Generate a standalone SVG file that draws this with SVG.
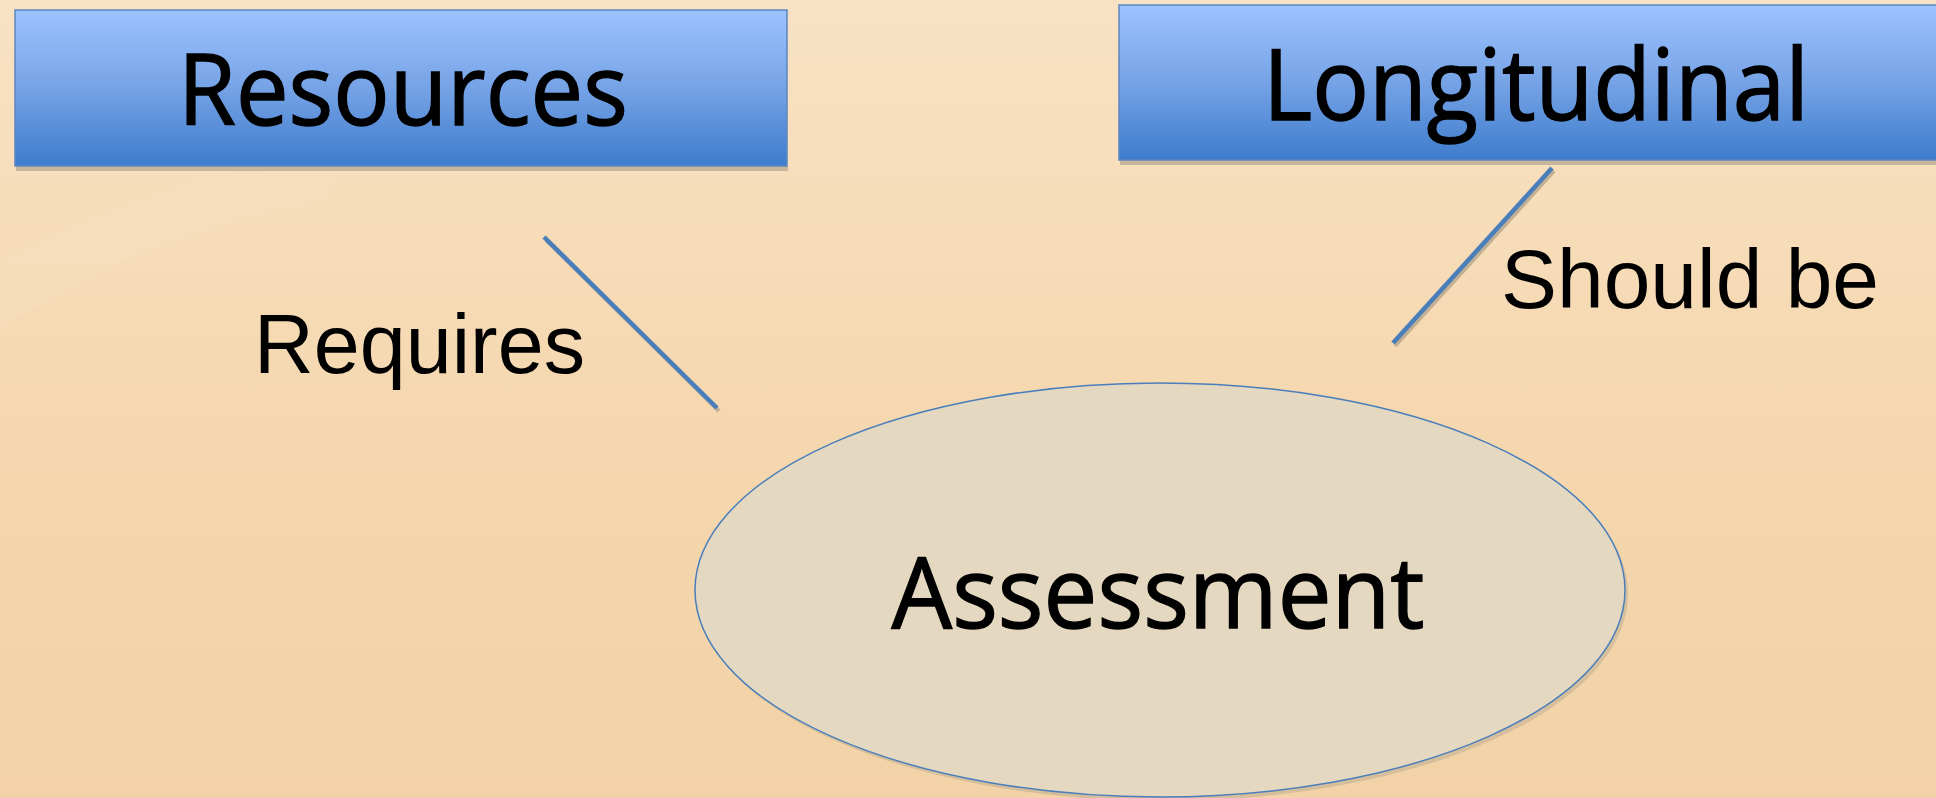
<svg xmlns="http://www.w3.org/2000/svg" width="1936" height="798" viewBox="0 0 1936 798">
  <defs>
    <linearGradient id="bg" x1="0" y1="0" x2="0" y2="1">
      <stop offset="0" stop-color="#f8e2c4"/>
      <stop offset="0.5" stop-color="#f5d8b0"/>
      <stop offset="1" stop-color="#f2d2a6"/>
    </linearGradient>
    <linearGradient id="boxg" x1="0" y1="0" x2="0" y2="1">
      <stop offset="0" stop-color="#9dc3ff"/>
      <stop offset="0.5" stop-color="#76a3e6"/>
      <stop offset="1" stop-color="#3d7ccc"/>
    </linearGradient>
    <style>
      .box { fill: url(#boxg); stroke: #5b86c0; stroke-width: 1.5; }
      .shadow { fill: #c8b69c; }
      .ntext { font-family: "Open Sans", "Noto Sans", sans-serif; font-size: 98px; fill: #000; stroke: #000; stroke-width: 1.4; text-anchor: middle; }
      .ltext { font-family: "Liberation Sans", Arial, sans-serif; font-size: 84px; fill: #000; }
      .conn { stroke: #4a7ebb; stroke-width: 4.5; fill: none; }
      .connsh { stroke: #c2b094; stroke-width: 4; fill: none; }
    </style>
  </defs>
  <rect x="0" y="0" width="1936" height="798" fill="url(#bg)"/>
  <path d="M0 330 L0 260 Q200 160 330 170 L330 200 Q150 230 0 330 Z" fill="#fae6cc" opacity="0.2"/>

  <g id="connectors">
    <line class="connsh" x1="546" y1="240" x2="719" y2="411"/>
    <line class="conn" x1="544" y1="237" x2="717" y2="408"/>
    <line class="connsh" x1="1554" y1="171" x2="1395" y2="346"/>
    <line class="conn" x1="1552" y1="168" x2="1393" y2="343"/>
  </g>

  <g id="label-requires">
    <text class="ltext" x="254" y="373" textLength="331" lengthAdjust="spacingAndGlyphs">Requires</text>
  </g>
  <g id="label-shouldbe">
    <text class="ltext" x="1501" y="308" textLength="378" lengthAdjust="spacingAndGlyphs">Should be</text>
  </g>

  <g id="node-resources">
    <rect class="shadow" x="16" y="166" width="772" height="5"/>
    <rect class="box" x="15" y="10" width="772" height="156"/>
    <text class="ntext" x="403" y="125" textLength="450" lengthAdjust="spacingAndGlyphs">Resources</text>
  </g>

  <g id="node-longitudinal">
    <rect class="shadow" x="1120" y="160" width="816" height="5"/>
    <rect class="box" x="1119" y="5" width="830" height="155"/>
    <text class="ntext" x="1536" y="120" textLength="546" lengthAdjust="spacingAndGlyphs">Longitudinal</text>
  </g>

  <g id="node-assessment">
    <ellipse cx="1163" cy="594" rx="465" ry="207" fill="#cdb99a" opacity="0.8"/>
    <ellipse cx="1160" cy="590" rx="465" ry="207" fill="#e4d8c1" stroke="#4a7ebb" stroke-width="1.5"/>
    <text class="ntext" x="1158" y="628" textLength="533" lengthAdjust="spacingAndGlyphs">Assessment</text>
  </g>
</svg>
